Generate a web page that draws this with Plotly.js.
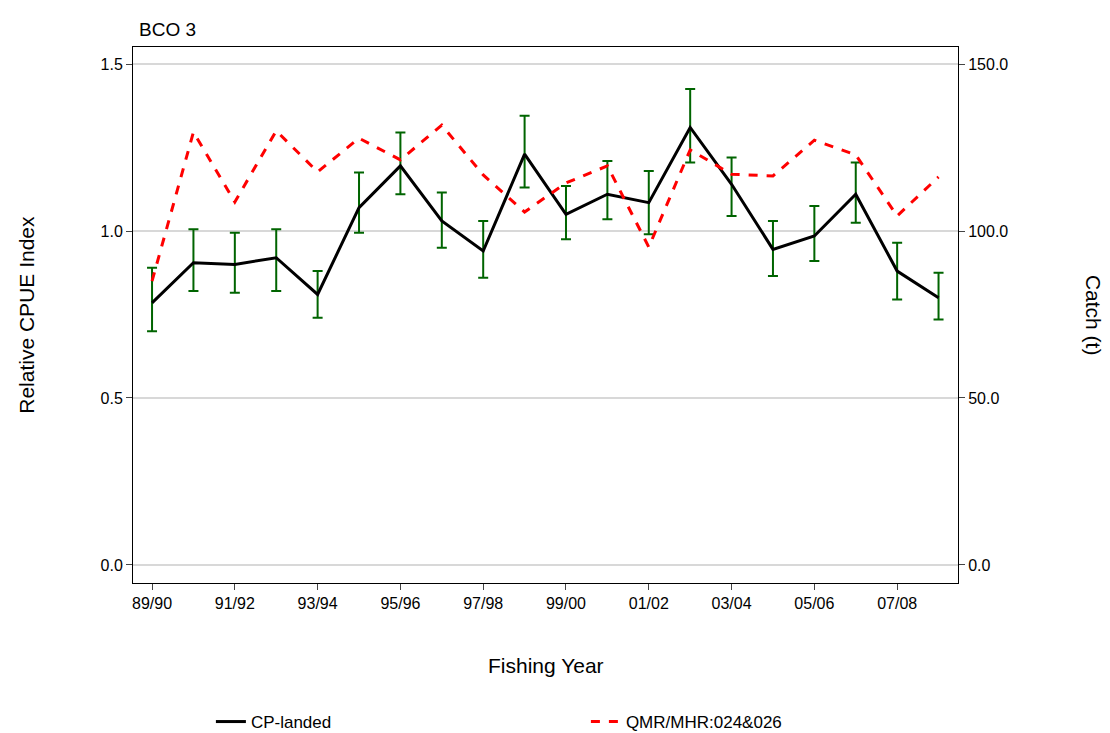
<!DOCTYPE html>
<html><head><meta charset="utf-8">
<script src="https://cdn.plot.ly/plotly-3.0.1.min.js"></script>
<style>body{margin:0;background:#fff}#data{width:1110px;height:733px}</style>
</head><body><div id="data"></div>
<script>
var years = ['89/90','90/91','91/92','92/93','93/94','94/95','95/96','96/97','97/98','98/99',
  '99/00','00/01','01/02','02/03','03/04','04/05','05/06','06/07','07/08','08/09'];
var cpue = [0.785,0.905,0.90,0.92,0.81,1.07,1.195,1.03,0.94,1.23,1.05,1.11,1.085,1.31,1.14,0.945,0.985,1.11,0.88,0.80];
var cpueUpper = [0.89,1.005,0.995,1.005,0.88,1.175,1.295,1.115,1.03,1.345,1.135,1.21,1.18,1.425,1.22,1.03,1.075,1.205,0.965,0.875];
var cpueLower = [0.70,0.82,0.815,0.82,0.74,0.995,1.11,0.95,0.86,1.13,0.975,1.035,0.99,1.205,1.045,0.865,0.91,1.025,0.795,0.735];
var catchT = [85,129.6,108.7,130,117.7,127.8,121.3,131.7,116.8,105.7,114.4,119.5,95.2,124.3,117,116.5,127.2,122.8,104.5,116.2];
var tickLabels = ['89/90','91/92','93/94','95/96','97/98','99/00','01/02','03/04','05/06','07/08'];

var xIdx = years.map(function (y, i) { return i; });
var tickIdx = tickLabels.map(function (t) { return years.indexOf(t); });

var family = 'Liberation Sans, Arial, sans-serif';

var traces = [{
  x: xIdx, y: cpue, type: 'scatter', mode: 'lines', name: 'CP-landed',
  line: {color: '#000', width: 3},
  error_y: {
    type: 'data', symmetric: false,
    array: cpue.map(function (v, i) { return cpueUpper[i] - v; }),
    arrayminus: cpue.map(function (v, i) { return v - cpueLower[i]; }),
    color: '#006400', thickness: 2, width: 5
  }
}, {
  x: xIdx, y: catchT, type: 'scatter', mode: 'lines', name: 'QMR/MHR:024&026',
  yaxis: 'y2', line: {color: '#ff0000', width: 3, dash: 'dash'}
}];

var layout = {
  width: 1110, height: 733,
  margin: {l: 133, r: 152, t: 47, b: 150, pad: 0, autoexpand: false},
  font: {family: family, size: 16, color: '#000'},
  plot_bgcolor: '#fff', paper_bgcolor: '#fff',
  showlegend: true,
  legend: {orientation: 'h', xref: 'container', yref: 'container', x: 0.19, xanchor: 'left',
    y: 0.015, yanchor: 'middle',
    font: {size: 17}, entrywidth: 330, entrywidthmode: 'pixels', traceorder: 'normal'},
  annotations: [
    {text: 'BCO 3', xref: 'paper', yref: 'paper', x: 0.005, y: 1.01,
      xanchor: 'left', yanchor: 'bottom', showarrow: false, font: {size: 19}},
    {text: 'Fishing Year', xref: 'paper', yref: 'paper', x: 0.5, y: -0.153,
      xanchor: 'center', yanchor: 'middle', showarrow: false, font: {size: 21}},
    {text: 'Relative CPUE Index', xref: 'paper', yref: 'paper', x: -0.13, y: 0.5,
      textangle: -90, xanchor: 'center', yanchor: 'middle', showarrow: false, font: {size: 21}},
    {text: 'Catch (t)', xref: 'paper', yref: 'paper', x: 1.165, y: 0.5,
      textangle: 90, xanchor: 'center', yanchor: 'middle', showarrow: false, font: {size: 21}}
  ],
  xaxis: {
    range: [-0.46, 19.47], tickvals: tickIdx, ticktext: tickLabels,
    ticks: 'outside', ticklen: 6, showgrid: false, zeroline: false,
    showline: true, linecolor: '#000', mirror: true
  },
  yaxis: {
    range: [-0.054, 1.551], tickvals: [0, 0.5, 1.0, 1.5], ticktext: ['0.0','0.5','1.0','1.5'],
    ticks: 'outside', ticklen: 6, showgrid: true, gridcolor: '#d8d8d8', gridwidth: 2, zeroline: false,
    showline: true, linecolor: '#000', mirror: true
  },
  yaxis2: {
    overlaying: 'y', side: 'right',
    range: [-5.4, 155.1], tickvals: [0, 50, 100, 150], ticktext: ['0.0','50.0','100.0','150.0'],
    ticks: 'outside', ticklen: 6, showgrid: false, zeroline: false
  }
};

Plotly.newPlot('data', traces, layout, {displayModeBar: false});
</script></body></html>
